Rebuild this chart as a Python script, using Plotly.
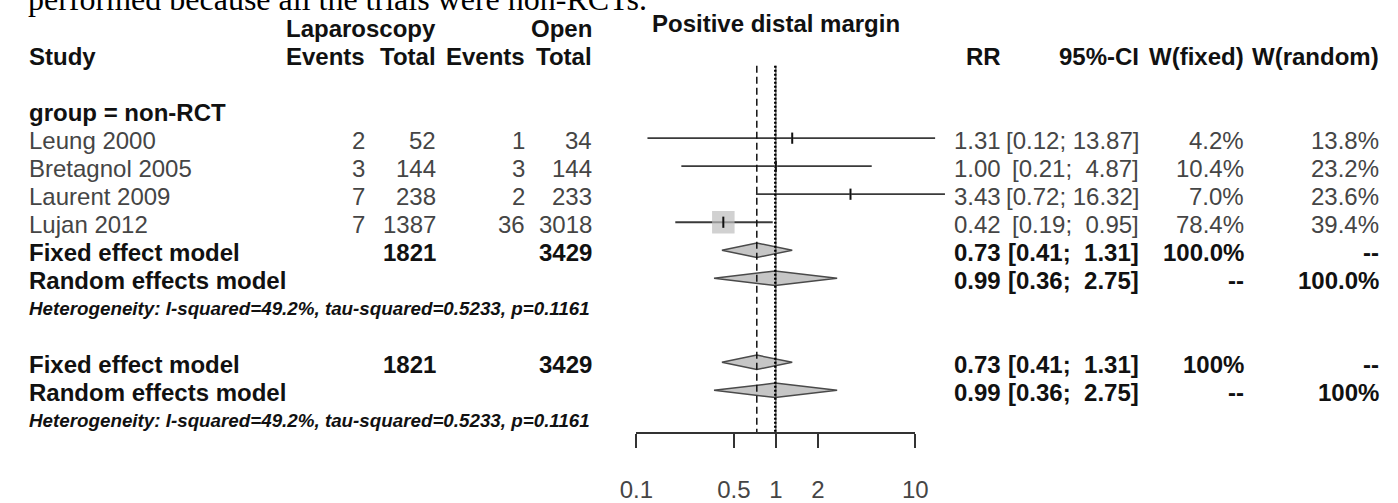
import plotly.graph_objects as go

W, H = 1398, 503

# ---------------- data ----------------
studies = ["Leung 2000", "Bretagnol 2005", "Laurent 2009", "Lujan 2012"]
lap_events = [2, 3, 7, 7]
lap_total = [52, 144, 238, 1387]
open_events = [1, 3, 2, 36]
open_total = [34, 144, 233, 3018]
rr = [1.31, 1.00, 3.43, 0.42]
ci_low = [0.12, 0.21, 0.72, 0.19]
ci_high = [13.87, 4.87, 16.32, 0.95]
w_fixed = [4.2, 10.4, 7.0, 78.4]
w_random = [13.8, 23.2, 23.6, 39.4]

model_labels = ["Fixed effect model", "Random effects model"]
model_rr = [0.73, 0.99]
model_low = [0.41, 0.36]
model_high = [1.31, 2.75]
lap_sum = 1821
open_sum = 3429
group_wfixed = ["100.0%", "--"]
group_wrandom = ["--", "100.0%"]
overall_wfixed = ["100%", "--"]
overall_wrandom = ["--", "100%"]

het_text = "Heterogeneity: I-squared=49.2%, tau-squared=0.5233, p=0.1161"
group_label = "group = non-RCT"
title_text = "Positive distal margin"
top_text = "performed because all the trials were non-RCTs."
tick_vals = [0.1, 0.5, 1, 2, 10]
tick_text = ["0.1", "0.5", "1", "2", "10"]

# ---------------- layout constants ----------------
X1 = 775.5      # pixel of RR = 1
K = 142.5       # pixels per decade
AXIS_Y = 448
FONT = "Liberation Sans, Arial, sans-serif"
REG = "#454545"
BLK = "#111111"


def ytext(i):
    return 145 + 29 * i


def ymark(i):
    return ytext(i) - 2


fig = go.Figure()


def txt(xpx, ypx, s, anchor="left", size=24, bold=False, italic=False,
        color=REG, family=FONT):
    if bold:
        s = "<b>" + s + "</b>"
    if italic:
        s = "<i>" + s + "</i>"
    fig.add_annotation(x=xpx / W, xref="paper", y=1 - ypx / H, yref="paper",
                       text=s, showarrow=False, xanchor=anchor,
                       yanchor="middle", borderpad=0,
                       font=dict(family=family, size=size, color=color))


def ci_str(lo, hi):
    return "[%.2f;%s]" % (lo, ("%6.2f" % hi).replace(" ", "\u00a0"))


# ---------------- forest marks ----------------
# diamonds (group and overall)
for j, row in [(0, 4), (1, 5), (0, 8), (1, 9)]:
    y = ymark(row)
    fig.add_trace(go.Scatter(
        x=[model_low[j], model_rr[j], model_high[j], model_rr[j], model_low[j]],
        y=[y, y - 7.5, y, y + 7.5, y],
        mode="lines", fill="toself", fillcolor="#c6c6c6",
        line=dict(color="#4a4a4a", width=1.5), hoverinfo="skip",
        showlegend=False, xaxis="x", yaxis="y"))

# CI lines
cx, cy = [], []
for i in range(len(studies)):
    cx += [ci_low[i], ci_high[i], None]
    cy += [ymark(i), ymark(i), None]
fig.add_trace(go.Scatter(x=cx, y=cy, mode="lines",
                         line=dict(color="#3a3a3a", width=1.8),
                         hoverinfo="skip", showlegend=False))

# vertical reference / pooled lines
fig.add_trace(go.Scatter(x=[1, 1], y=[68, AXIS_Y], mode="lines",
                         line=dict(color="#444444", width=1.2),
                         hoverinfo="skip", showlegend=False))
fig.add_trace(go.Scatter(x=[model_rr[1], model_rr[1]], y=[68, AXIS_Y], mode="lines",
                         line=dict(color="#000000", width=2.4, dash="2px,2px"),
                         hoverinfo="skip", showlegend=False))
fig.add_trace(go.Scatter(x=[model_rr[0], model_rr[0]], y=[68, AXIS_Y], mode="lines",
                         line=dict(color="#111111", width=1.5, dash="7px,4px"),
                         hoverinfo="skip", showlegend=False))

# squares (size by fixed weight)
wmax = max(w_fixed)
fig.add_trace(go.Scatter(
    x=rr, y=[ymark(i) for i in range(len(studies))], mode="markers",
    marker=dict(symbol="square", color="#bdbdbd",
                size=[max(2, 22.5 * w / wmax) for w in w_fixed],
                line=dict(width=0)),
    hoverinfo="skip", showlegend=False))
# point-estimate ticks
fig.add_trace(go.Scatter(
    x=rr, y=[ymark(i) for i in range(len(studies))], mode="markers",
    marker=dict(symbol="line-ns", size=8, line=dict(width=2, color="#111111")),
    hoverinfo="skip", showlegend=False))

# dummy trace to anchor the visible axis
fig.add_trace(go.Scatter(x=[1], y=[AXIS_Y], mode="markers",
                         marker=dict(opacity=0), hoverinfo="skip",
                         showlegend=False, xaxis="x2", yaxis="y"))

# ---------------- text ----------------
txt(10, -1, top_text, size=32, color="#000000",
    family="Liberation Serif, Times New Roman, serif")
txt(X1, 24, title_text, anchor="center", bold=True, color=BLK)

# left headers
txt(11, ytext(-3), "Study", bold=True, color=BLK)
txt(429, ytext(-4), "Laparoscopy", anchor="right", bold=True, color=BLK)
txt(589, ytext(-4), "Open", anchor="right", bold=True, color=BLK)
for xr, s in [(357, "Events"), (429, "Total"), (520, "Events"), (589, "Total")]:
    txt(xr, ytext(-3), s, anchor="right", bold=True, color=BLK)
# right headers
for xr, s in [(1007, "RR"), (1148, "95%-CI"), (1255, "W(fixed)"), (1393, "W(random)")]:
    txt(xr, ytext(-3), s, anchor="right", bold=True, color=BLK)

txt(11, ytext(-1), group_label, bold=True, color=BLK)

for i, name in enumerate(studies):
    y = ytext(i)
    txt(11, y, name)
    txt(357, y, str(lap_events[i]), anchor="right")
    txt(429, y, str(lap_total[i]), anchor="right")
    txt(520, y, str(open_events[i]), anchor="right")
    txt(589, y, str(open_total[i]), anchor="right")
    txt(1007, y, "%.2f" % rr[i], anchor="right")
    txt(1148, y, ci_str(ci_low[i], ci_high[i]), anchor="right")
    txt(1255, y, "%.1f%%" % w_fixed[i], anchor="right")
    txt(1393, y, "%.1f%%" % w_random[i], anchor="right")

for base, wf, wr in [(4, group_wfixed, group_wrandom), (8, overall_wfixed, overall_wrandom)]:
    for j in range(2):
        y = ytext(base + j)
        txt(11, y, model_labels[j], bold=True, color=BLK)
        if j == 0:
            txt(429, y, str(lap_sum), anchor="right", bold=True, color=BLK)
            txt(589, y, str(open_sum), anchor="right", bold=True, color=BLK)
        txt(1007, y, "%.2f" % model_rr[j], anchor="right", bold=True, color=BLK)
        txt(1148, y, ci_str(model_low[j], model_high[j]), anchor="right",
            bold=True, color=BLK)
        txt(1255, y, wf[j], anchor="right", bold=True, color=BLK)
        txt(1393, y, wr[j], anchor="right", bold=True, color=BLK)
    txt(11, ytext(base + 2), het_text, size=18.8, bold=True, italic=True, color=BLK)

# ---------------- axes ----------------
fig.update_layout(
    width=W, height=H, margin=dict(l=0, r=0, t=0, b=0),
    paper_bgcolor="white", plot_bgcolor="rgba(0,0,0,0)", showlegend=False,
    xaxis=dict(type="log", range=[-X1 / K, (W - X1) / K], domain=[0, 1],
               visible=False, fixedrange=True),
    yaxis=dict(range=[H, 0], domain=[0, 1], visible=False, fixedrange=True),
    xaxis2=dict(type="log", range=[-1, 1],
                domain=[(X1 - K) / W, (X1 + K) / W],
                anchor="free", position=(H - AXIS_Y) / H,
                showline=True, linecolor="#333333", linewidth=1.5,
                ticks="outside", ticklen=14, tickwidth=1.5, tickcolor="#333333",
                tickvals=tick_vals, ticktext=tick_text,
                tickfont=dict(family=FONT, size=24, color=REG),
                ticklabelstandoff=22,
                showgrid=False, zeroline=False, fixedrange=True),
)

fig.write_html("out.html")
